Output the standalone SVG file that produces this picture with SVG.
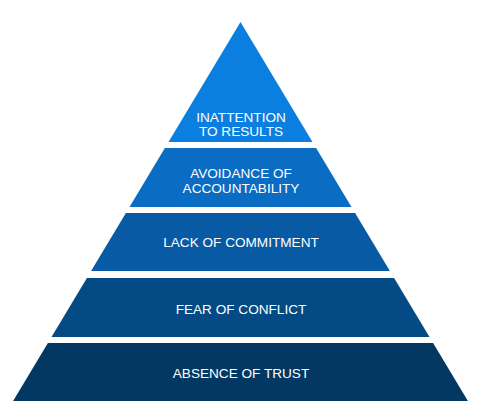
<svg xmlns="http://www.w3.org/2000/svg" width="477" height="409" viewBox="0 0 477 409">
<style>
.t{font-family:"Liberation Sans",Arial,Helvetica,sans-serif;font-size:13.6px;fill:#ffffff;text-anchor:middle}
</style>
<rect width="477" height="409" fill="#ffffff"/>
<g id="level1">
<polygon points="240.5,22 312.5,142 168.5,142" fill="#0b7fe0"/>
<text class="t" x="241" y="121.5">INATTENTION</text>
<text class="t" x="241" y="135.5">TO RESULTS</text>
</g>
<g id="level2">
<polygon points="164.9,148 316.1,148 351.5,207 129.5,207" fill="#0a6cc3"/>
<text class="t" x="241" y="178">AVOIDANCE OF</text>
<text class="t" x="241" y="192.5">ACCOUNTABILITY</text>
</g>
<g id="level3">
<polygon points="125.9,213 355.1,213 389.9,271 91.1,271" fill="#075aa3"/>
<text class="t" x="241" y="246.5">LACK OF COMMITMENT</text>
</g>
<g id="level4">
<polygon points="86.9,278 394.1,278 429.5,337 51.5,337" fill="#044a84"/>
<text class="t" x="241" y="314">FEAR OF CONFLICT</text>
</g>
<g id="level5">
<polygon points="47.9,343 433.1,343 467.9,401 13.1,401" fill="#033863"/>
<text class="t" x="241" y="378">ABSENCE OF TRUST</text>
</g>
<g id="connectors"></g>
</svg>
